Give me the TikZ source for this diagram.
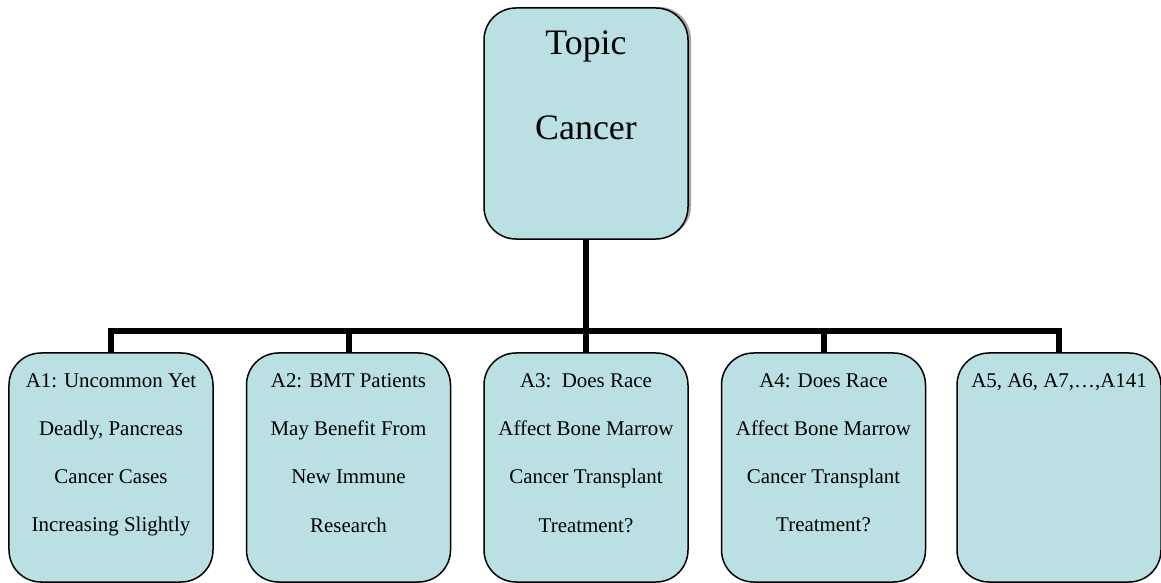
\documentclass[tikz,border=0pt]{standalone}
\usepackage{fontspec}
\setmainfont{Liberation Serif}
\usetikzlibrary{shadows}
\definecolor{boxfill}{RGB}{186,224,228}
\tikzset{
  box/.style={draw=black, line width=1.5bp, fill=boxfill, rounded corners=32bp,
    minimum width=204bp, inner sep=0pt},
  topbox/.style={box, minimum height=231bp,
    drop shadow={shadow xshift=3bp, shadow yshift=1bp, fill=gray!70, opacity=1}},
  leafbox/.style={box, minimum height=229bp},
  leaftxt/.style={anchor=north, inner sep=0pt, align=center,
    font=\fontsize{21}{48.5}\selectfont},
  toptxt/.style={anchor=north, inner sep=0pt, align=center,
    font=\fontsize{36}{85}\selectfont},
  conn/.style={line width=6bp, line join=miter, line cap=butt}
}
\begin{document}
\begin{tikzpicture}[x=1bp, y=-1bp]
\useasboundingbox (0,0) rectangle (1161,583);
% top box
\node[topbox] (top) at (586,123.5) {};
\node[toptxt] (toptext) at (586,30.5) {Topic\\Cancer};
% leaf boxes
\node[leafbox] (a1) at (111,467.5) {};
\node[leafbox] (a2) at (348.5,467.5) {};
\node[leafbox] (a3) at (586,467.5) {};
\node[leafbox] (a4) at (823.5,467.5) {};
\node[leafbox] (a5) at (1059,467.5) {};
\node[leaftxt] (t1) at (111,373) {A1: Uncommon Yet\\Deadly, Pancreas\\Cancer Cases\\Increasing Slightly};
\node[leaftxt] (t2) at (348.5,373) {A2: BMT Patients\\May Benefit From\\New Immune\\Research};
\node[leaftxt] (t3) at (586,373) {A3:\ \ Does Race\\Affect Bone Marrow\\Cancer Transplant\\Treatment?};
\node[leaftxt] (t4) at (823.5,373) {A4: Does Race\\Affect Bone Marrow\\Cancer Transplant\\Treatment?};
\node[leaftxt] (t5) at (1059,373) {A5, A6, A7,…,A141};
% connectors
\coordinate (bus) at (586,331);
\draw[conn] (top.south) -- (a3.north);
\draw[conn] (a1.north) -- (a1.north |- bus) -- (a5.north |- bus) -- (a5.north);
\draw[conn] (a2.north) -- (a2.north |- bus);
\draw[conn] (a4.north) -- (a4.north |- bus);
\end{tikzpicture}
\end{document}
